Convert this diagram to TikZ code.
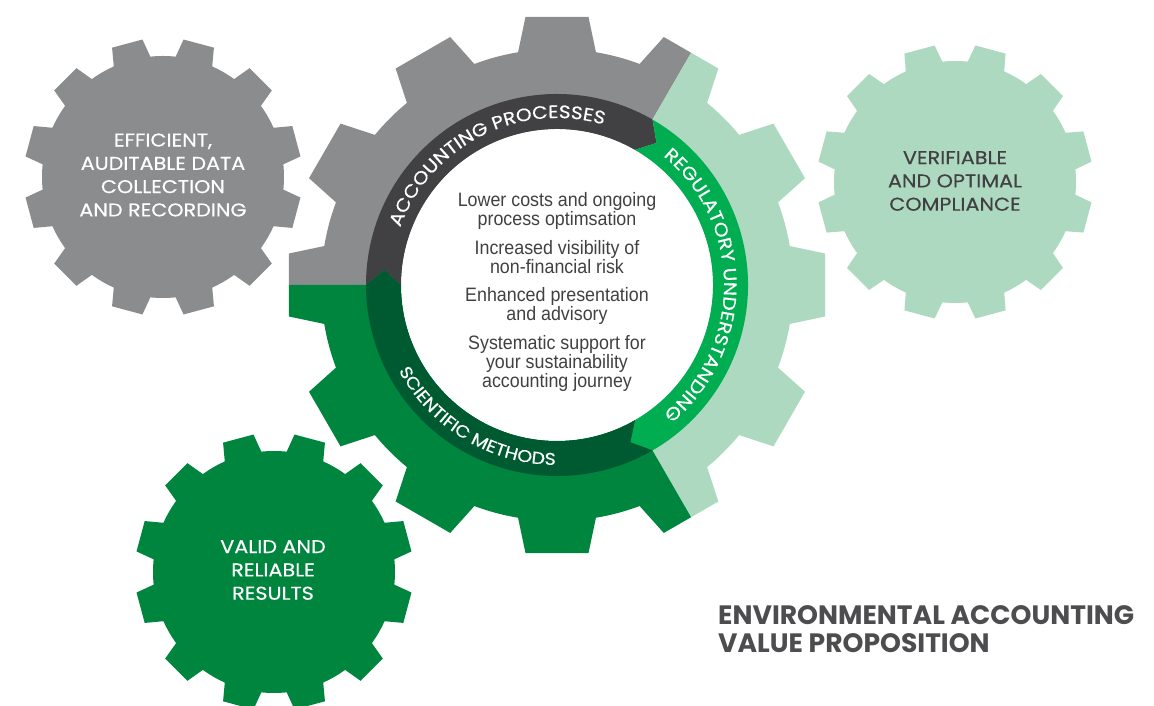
\documentclass[tikz,border=0pt]{standalone}
\usepackage{fontspec}
\usetikzlibrary{decorations.text}

\newfontfamily\capfont[FakeStretch=1.12, FakeBold=0.4]{Poppins}
\newfontfamily\titlefont{Poppins}
\newfontfamily\condfont[FakeStretch=0.92]{Liberation Sans}

\definecolor{cogGray}{HTML}{8A8C8E}
\definecolor{cogMint}{HTML}{ACD9BF}
\definecolor{cogGreen}{HTML}{00853F}
\definecolor{ringGray}{HTML}{414042}
\definecolor{ringBright}{HTML}{00AD50}
\definecolor{ringDark}{HTML}{005A31}
\definecolor{textGray}{HTML}{414042}
\definecolor{titleGray}{HTML}{4D4D4F}

% tip radius, root radius, tip half angle, root half angle, offset
\newcommand{\gearshape}[5]{({#5-#4}:#2) \foreach \i in {0,...,11}{ -- ({#5+30*\i-#3}:#1) -- ({#5+30*\i+#3}:#1) -- ({#5+30*\i+#4}:#2) arc[start angle={#5+30*\i+#4}, end angle={#5+30*\i+30-#4}, radius=#2]} -- cycle}

\begin{document}
\begin{tikzpicture}[x=1pt, y=1pt]
  \tikzstyle{cogtext} = [inner sep=0pt, align=center, text=white, font=\capfont\fontsize{18.5}{23.3}\selectfont]
  \tikzstyle{ringtext} = [decorate, decoration={text along path, text align=center, text color=white}]
  \tikzstyle{pointtext} = [inner sep=0pt, align=center, text=textGray, font=\condfont\fontsize{19.4}{18}\selectfont]
  \tikzstyle{titletext} = [inner sep=0pt, align=left, text=titleGray, font=\titlefont\bfseries\fontsize{26.6}{28.5}\selectfont]

  \clip (0,0) rectangle (1154,706);

  \fill[cogGray, shift={(163,529)}] \gearshape{139}{121}{6.5}{9}{15};
  \fill[cogMint, shift={(955,524)}] \gearshape{138}{121}{6.5}{9}{15};
  \fill[cogGreen, shift={(274,134)}] \gearshape{139}{121}{6.5}{9}{15};

  \begin{scope}[shift={(557,421)}]
    \begin{scope}
      \clip (0,0) -- (60:300) arc[start angle=60, end angle=180, radius=300] -- cycle;
      \fill[cogGray] \gearshape{270}{236}{6.7}{9.5}{0};
    \end{scope}
    \begin{scope}
      \clip (0,0) -- (-60:300) arc[start angle=-60, end angle=60, radius=300] -- cycle;
      \fill[cogMint] \gearshape{270}{236}{6.7}{9.5}{0};
    \end{scope}
    \begin{scope}
      \clip (0,0) -- (180:300) arc[start angle=180, end angle=300, radius=300] -- cycle;
      \fill[cogGreen] \gearshape{270}{236}{6.7}{9.5}{0};
    \end{scope}

    \fill[white] (0,0) circle[radius=156];
    \fill[ringGray] (180:191) arc[start angle=180, end angle=60, radius=191] -- (55:173.5) -- (60:156) arc[start angle=60, end angle=180, radius=156] -- (175:173.5) -- cycle;
    \fill[ringBright] (60:191) arc[start angle=60, end angle=-60, radius=191] -- (-65:173.5) -- (-60:156) arc[start angle=-60, end angle=60, radius=156] -- (55:173.5) -- cycle;
    \fill[ringDark] (-60:191) arc[start angle=-60, end angle=-180, radius=191] -- (-185:173.5) -- (-180:156) arc[start angle=-180, end angle=-60, radius=156] -- (-65:173.5) -- cycle;

    \path[ringtext, decoration={text={|\capfont\fontsize{18}{18}\selectfont|ACCOUNTING PROCESSES}}] (176.8:167) arc[start angle=176.8, end angle=56.8, radius=167];
    \path[ringtext, decoration={text={|\capfont\fontsize{18}{18}\selectfont|REGULATORY UNDERSTANDING}}] (60:167) arc[start angle=60, end angle=-60, radius=167];
    \path[ringtext, decoration={text={|\capfont\fontsize{17}{17}\selectfont|SCIENTIFIC METHODS}}] (189:180) arc[start angle=189, end angle=289, radius=180];
  \end{scope}

  \node[cogtext] (collect) at (163,531) {EFFICIENT,\\AUDITABLE DATA\\COLLECTION\\AND RECORDING};
  \node[cogtext, text=textGray] (comply) at (955,525) {VERIFIABLE\\AND OPTIMAL\\COMPLIANCE};
  \node[cogtext] (results) at (273,136) {VALID AND\\RELIABLE\\RESULTS};

  \node[pointtext, anchor=north] (benefits) at (557,514) {Lower costs and ongoing\\process optimsation\\[10pt]Increased visibility of\\non-financial risk\\[10pt]Enhanced presentation\\and advisory\\[10pt]Systematic support for\\your sustainability\\accounting journey};

  \node[titletext, anchor=north west] (title) at (718,101) {ENVIRONMENTAL ACCOUNTING\\VALUE PROPOSITION};
\end{tikzpicture}
\end{document}
